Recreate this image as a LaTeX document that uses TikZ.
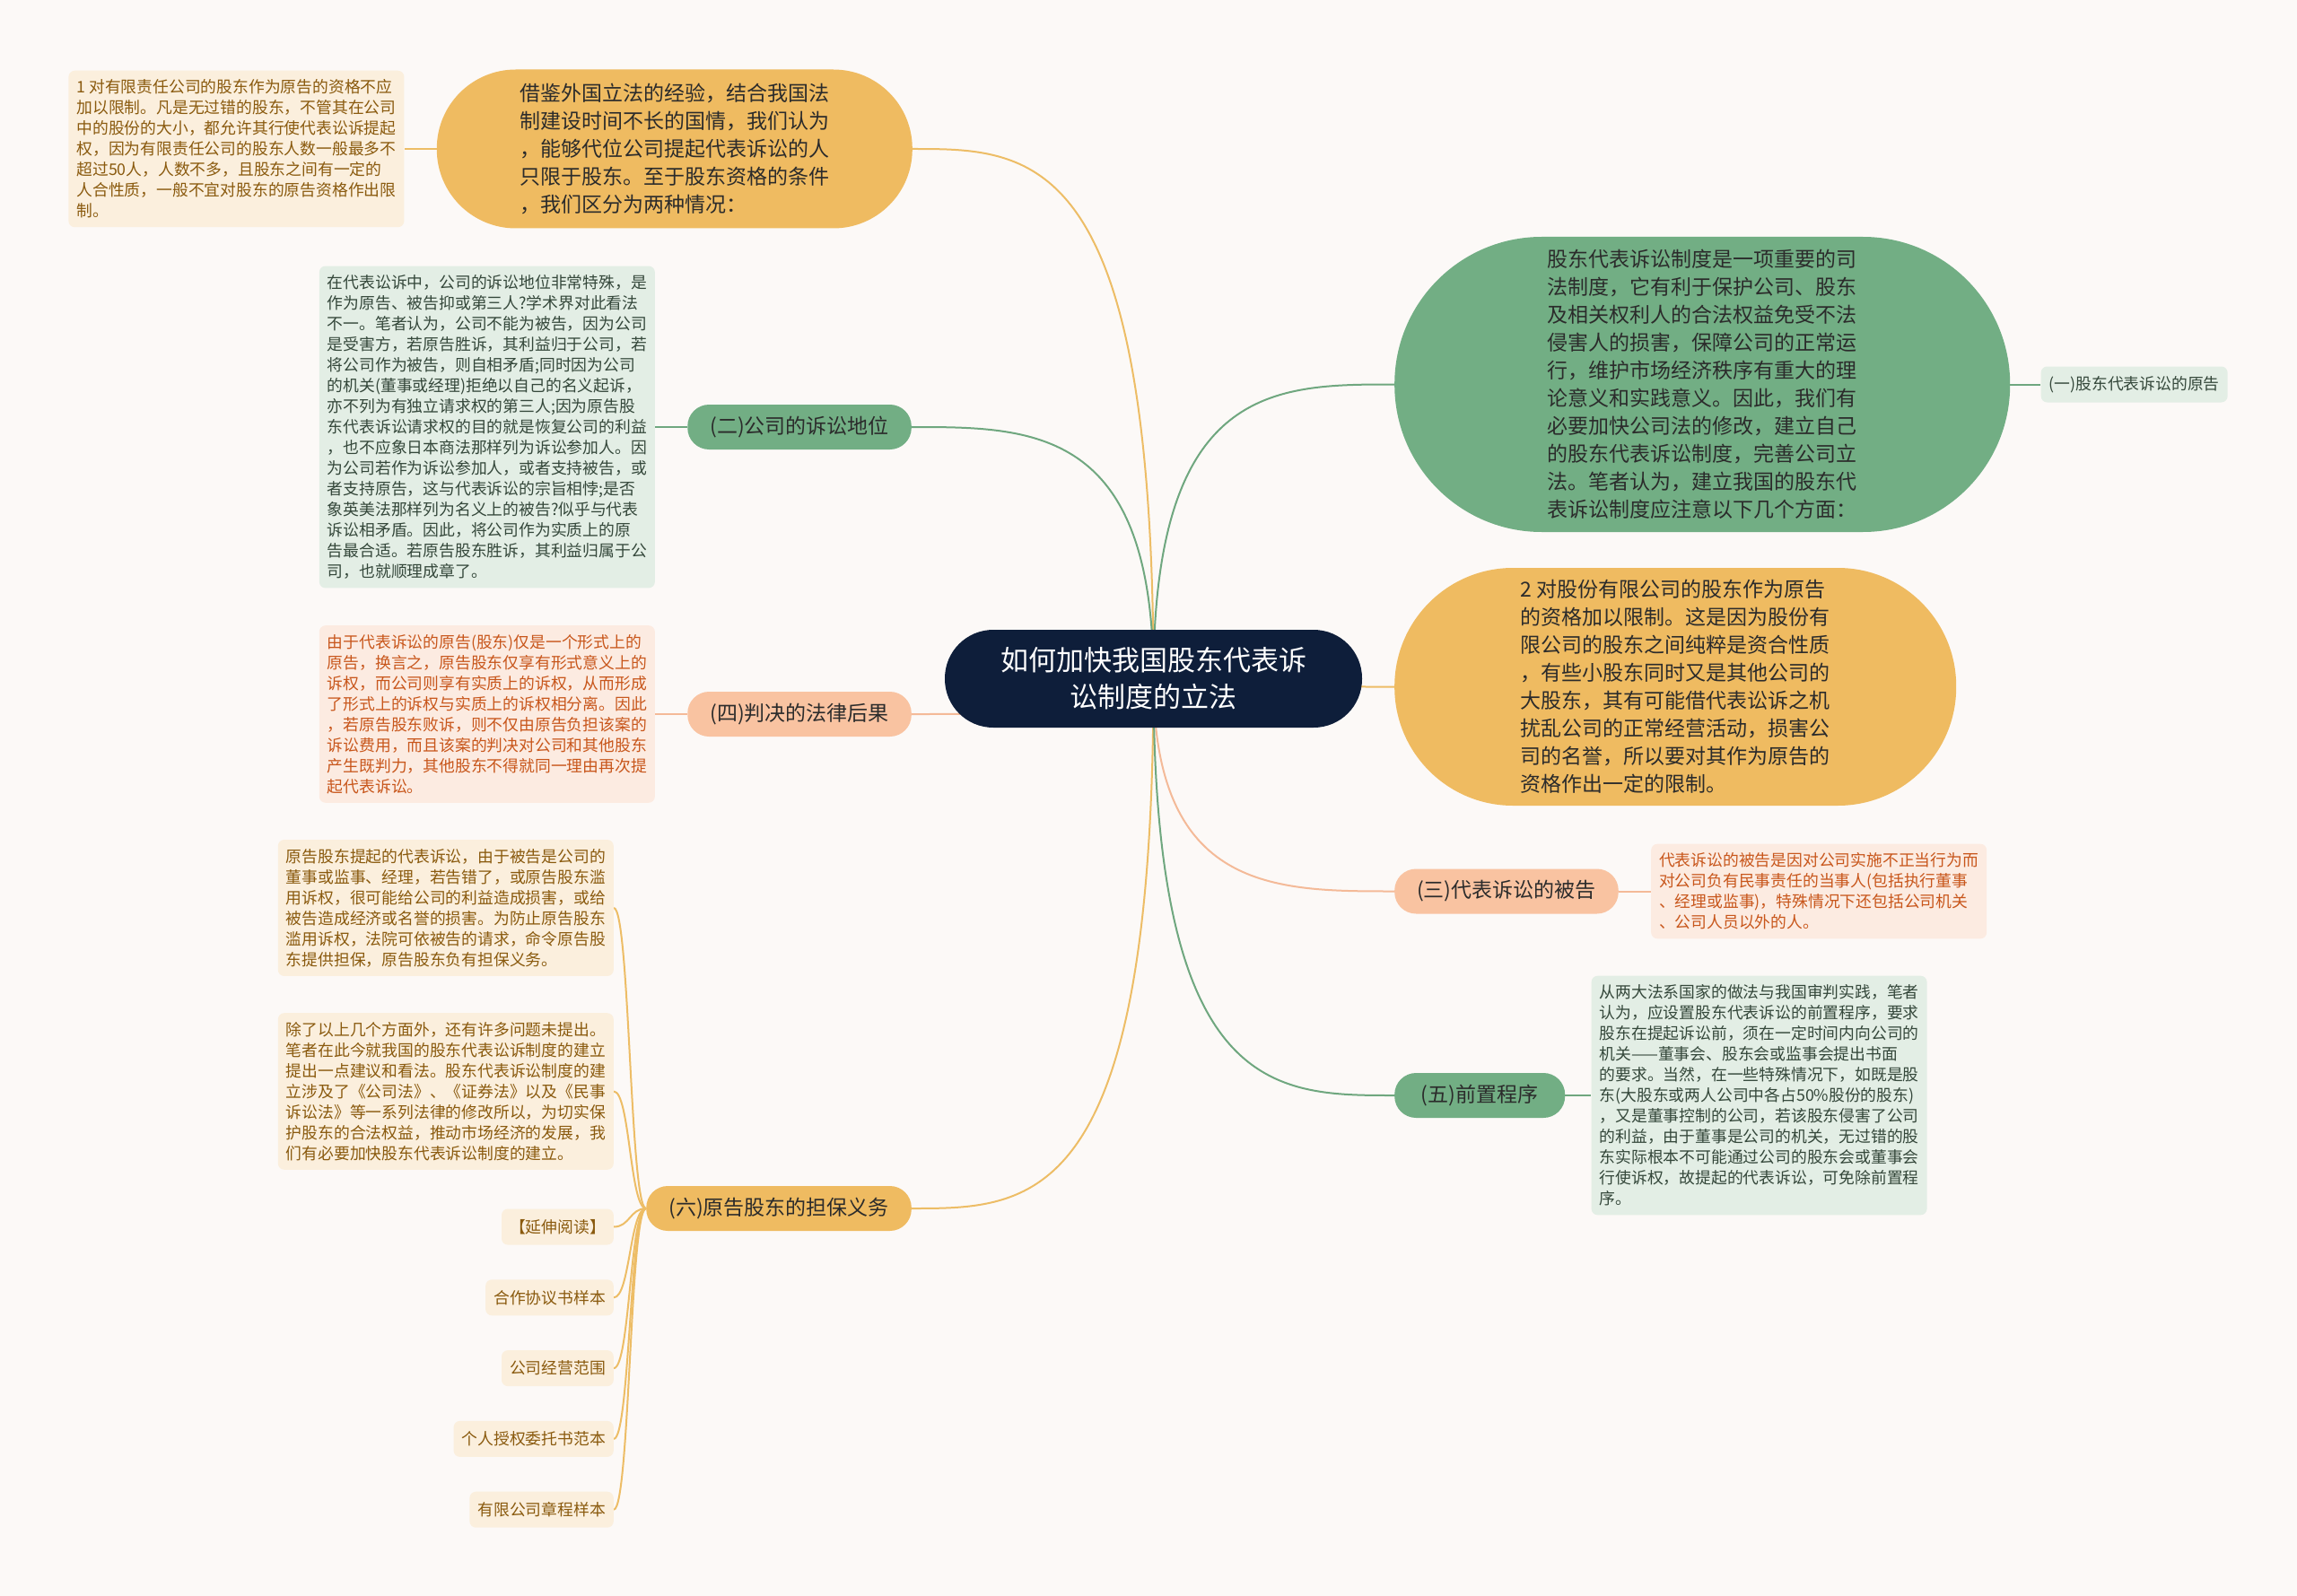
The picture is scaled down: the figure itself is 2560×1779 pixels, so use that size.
\documentclass[tikz,border=0pt]{standalone}
\usepackage{fontspec}
\setmainfont{Noto Sans CJK SC}
\usetikzlibrary{positioning,calc}
\definecolor{bgc}{HTML}{FCF9F7}
\definecolor{navy}{HTML}{0E1E3A}
\definecolor{orangefill}{HTML}{EFBB61}
\definecolor{greenfill}{HTML}{72AE84}
\definecolor{salmonfill}{HTML}{F9C3A1}
\definecolor{orangeleaf}{HTML}{FBEFDD}
\definecolor{greenleaf}{HTML}{E3EEE5}
\definecolor{salmonleaf}{HTML}{FCEBE1}
\definecolor{orangetext}{HTML}{8A5A0E}
\definecolor{greentext}{HTML}{34473A}
\definecolor{salmontext}{HTML}{C8561B}
\definecolor{darktext}{HTML}{2B2B2B}
\definecolor{orangeline}{HTML}{EDBD66}
\definecolor{greenline}{HTML}{6FA77F}
\definecolor{salmonline}{HTML}{F4BA98}
\pgfdeclarelayer{back}
\pgfdeclarelayer{lines}
\pgfsetlayers{back,lines,main}

\begin{document}
\begin{tikzpicture}[
  x=1pt,y=-1pt,
  font=\fontsize{17.8}{23}\selectfont,
  pill/.style={rectangle,rounded corners=24pt,minimum height=50pt,inner xsep=25pt,
               font=\fontsize{23}{28}\selectfont,text=darktext},
  bigpill/.style={rectangle,align=left,text=darktext,font=\fontsize{23}{31}\selectfont,
                  inner sep=0pt},
  leaf/.style={rectangle,rounded corners=7pt,align=left,inner xsep=9pt,inner ysep=10pt},
  tag/.style={leaf,minimum height=40pt,inner ysep=0pt},
  oleaf/.style={fill=orangeleaf,text=orangetext},
  gleaf/.style={fill=greenleaf,text=greentext},
  sleaf/.style={fill=salmonleaf,text=salmontext},
  branch/.style={line width=2pt,to path={.. controls (\tikztostart |- \tikztotarget)
      and ($(\tikztostart |- \tikztotarget)!0.5!(\tikztotarget)$) .. (\tikztotarget)}},
  twig/.style={line width=2pt,to path={.. controls ($(\tikztostart)!0.5!(\tikztostart -| \tikztotarget)$)
      and ($(\tikztotarget)!0.5!(\tikztotarget -| \tikztostart)$) .. (\tikztotarget)}}
]
\useasboundingbox (0,0) rectangle (2560,1779);
\node[rectangle,rounded corners=54pt,fill=navy,text=white,align=center,minimum width=465pt,
  minimum height=109pt,font=\fontsize{31}{41}\selectfont] (root) at (1285.5,756.5)
  {如何加快我国股东代表诉\\讼制度的立法};

\node[bigpill,fill=orangefill,rounded corners=88pt,minimum width=530pt,minimum height=177pt,
  anchor=east] (jiejian) at (1017,166)
  {借鉴外国立法的经验，结合我国法\\制建设时间不长的国情，我们认为\\，能够代位公司提起代表诉讼的人\\只限于股东。至于股东资格的条件\\，我们区分为两种情况：};
\node[pill,fill=greenfill,anchor=east] (diwei) at (1016,476) {(二)公司的诉讼地位};
\node[pill,fill=salmonfill,anchor=east] (houguo) at (1016,796) {(四)判决的法律后果};
\node[pill,fill=orangefill,anchor=east] (danbao) at (1016,1347) {(六)原告股东的担保义务};

\node[bigpill,fill=greenfill,rounded corners=164pt,minimum width=686pt,minimum height=329pt,
  anchor=west] (shenyi) at (1554,428.5)
  {股东代表诉讼制度是一项重要的司\\法制度，它有利于保护公司、股东\\及相关权利人的合法权益免受不法\\侵害人的损害，保障公司的正常运\\行，维护市场经济秩序有重大的理\\论意义和实践意义。因此，我们有\\必要加快公司法的修改，建立自己\\的股东代表诉讼制度，完善公司立\\法。笔者认为，建立我国的股东代\\表诉讼制度应注意以下几个方面：};
\node[bigpill,fill=orangefill,rounded corners=132pt,minimum width=626pt,minimum height=265pt,
  anchor=west] (gufen) at (1554,765.5)
  {2 对股份有限公司的股东作为原告\\的资格加以限制。这是因为股份有\\限公司的股东之间纯粹是资合性质\\，有些小股东同时又是其他公司的\\大股东，其有可能借代表讼诉之机\\扰乱公司的正常经营活动，损害公\\司的名誉，所以要对其作为原告的\\资格作出一定的限制。};
\node[pill,fill=salmonfill,anchor=west] (beigao) at (1554,993.5) {(三)代表诉讼的被告};
\node[pill,fill=greenfill,anchor=west,minimum width=190pt] (qianzhi) at (1554,1221) {(五)前置程序};

\node[leaf,oleaf,left=36pt of jiejian] (youxian)
  {1 对有限责任公司的股东作为原告的资格不应\\加以限制。凡是无过错的股东，不管其在公司\\中的股份的大小，都允许其行使代表讼诉提起\\权，因为有限责任公司的股东人数一般最多不\\超过50人，人数不多，且股东之间有一定的\\人合性质，一般不宜对股东的原告资格作出限\\制。};
\node[leaf,gleaf,left=36pt of diwei] (diweitxt)
  {在代表讼诉中，公司的诉讼地位非常特殊，是\\作为原告、被告抑或第三人?学术界对此看法\\不一。笔者认为，公司不能为被告，因为公司\\是受害方，若原告胜诉，其利益归于公司，若\\将公司作为被告，则自相矛盾;同时因为公司\\的机关(董事或经理)拒绝以自己的名义起诉，\\亦不列为有独立请求权的第三人;因为原告股\\东代表诉讼请求权的目的就是恢复公司的利益\\，也不应象日本商法那样列为诉讼参加人。因\\为公司若作为诉讼参加人，或者支持被告，或\\者支持原告，这与代表诉讼的宗旨相悖;是否\\象英美法那样列为名义上的被告?似乎与代表\\诉讼相矛盾。因此，将公司作为实质上的原\\告最合适。若原告股东胜诉，其利益归属于公\\司，也就顺理成章了。};
\node[leaf,sleaf,left=36pt of houguo] (houguotxt)
  {由于代表诉讼的原告(股东)仅是一个形式上的\\原告，换言之，原告股东仅享有形式意义上的\\诉权，而公司则享有实质上的诉权，从而形成\\了形式上的诉权与实质上的诉权相分离。因此\\，若原告股东败诉，则不仅由原告负担该案的\\诉讼费用，而且该案的判决对公司和其他股东\\产生既判力，其他股东不得就同一理由再次提\\起代表诉讼。};
\node[leaf,oleaf,anchor=east] (dbA) at (684,1012)
  {原告股东提起的代表诉讼，由于被告是公司的\\董事或监事、经理，若告错了，或原告股东滥\\用诉权，很可能给公司的利益造成损害，或给\\被告造成经济或名誉的损害。为防止原告股东\\滥用诉权，法院可依被告的请求，命令原告股\\东提供担保，原告股东负有担保义务。};
\node[leaf,oleaf,anchor=east] (dbB) at (684,1216.5)
  {除了以上几个方面外，还有许多问题未提出。\\笔者在此今就我国的股东代表讼诉制度的建立\\提出一点建议和看法。股东代表诉讼制度的建\\立涉及了《公司法》、《证券法》以及《民事\\诉讼法》等一系列法律的修改所以，为切实保\\护股东的合法权益，推动市场经济的发展，我\\们有必要加快股东代表诉讼制度的建立。};
\foreach \name/\txt [count=\i from 0] in {yanshen/【延伸阅读】, hezuo/合作协议书样本,
    jingying/公司经营范围, shouquan/个人授权委托书范本, zhangcheng/有限公司章程样本}
  \node[tag,oleaf,anchor=east] (\name) at (684,1367.5+78.8*\i) {\txt};

\node[tag,gleaf,right=34pt of shenyi] (yuangao) {(一)股东代表诉讼的原告};
\node[leaf,sleaf,right=36pt of beigao] (beigaotxt)
  {代表诉讼的被告是因对公司实施不正当行为而\\对公司负有民事责任的当事人(包括执行董事\\、经理或监事)，特殊情况下还包括公司机关\\、公司人员以外的人。};
\node[leaf,gleaf,right=29pt of qianzhi] (qianzhitxt)
  {从两大法系国家的做法与我国审判实践，笔者\\认为，应设置股东代表诉讼的前置程序，要求\\股东在提起诉讼前，须在一定时间内向公司的\\机关——董事会、股东会或监事会提出书面\\的要求。当然，在一些特殊情况下，如既是股\\东(大股东或两人公司中各占50\%股份的股东)\\，又是董事控制的公司，若该股东侵害了公司\\的利益，由于董事是公司的机关，无过错的股\\东实际根本不可能通过公司的股东会或董事会\\行使诉权，故提起的代表诉讼，可免除前置程\\序。};

\begin{pgfonlayer}{back}
\fill[bgc] (0,0) rectangle (2560,1779);
\end{pgfonlayer}
\begin{pgfonlayer}{lines}
\foreach \dst/\col in {jiejian/orangeline, diwei/greenline, houguo/salmonline, danbao/orangeline}
  \draw[branch,color=\col] (root.center) to (\dst.east);
\foreach \dst/\col in {shenyi/greenline, gufen/orangeline, beigao/salmonline, qianzhi/greenline}
  \draw[branch,color=\col] (root.center) to (\dst.west);
\foreach \src/\dst/\col in {jiejian/youxian/orangeline, diwei/diweitxt/greenline,
    houguo/houguotxt/salmonline}
  \draw[twig,color=\col] (\src.west) to (\dst.east);
\foreach \src/\dst/\col in {shenyi/yuangao/greenline, beigao/beigaotxt/salmonline,
    qianzhi/qianzhitxt/greenline}
  \draw[twig,color=\col] (\src.east) to (\dst.west);
\foreach \dst in {dbA,dbB,yanshen,hezuo,jingying,shouquan,zhangcheng}
  \draw[twig,color=orangeline] (danbao.west) to (\dst.east);
\end{pgfonlayer}
\end{tikzpicture}
\end{document}
